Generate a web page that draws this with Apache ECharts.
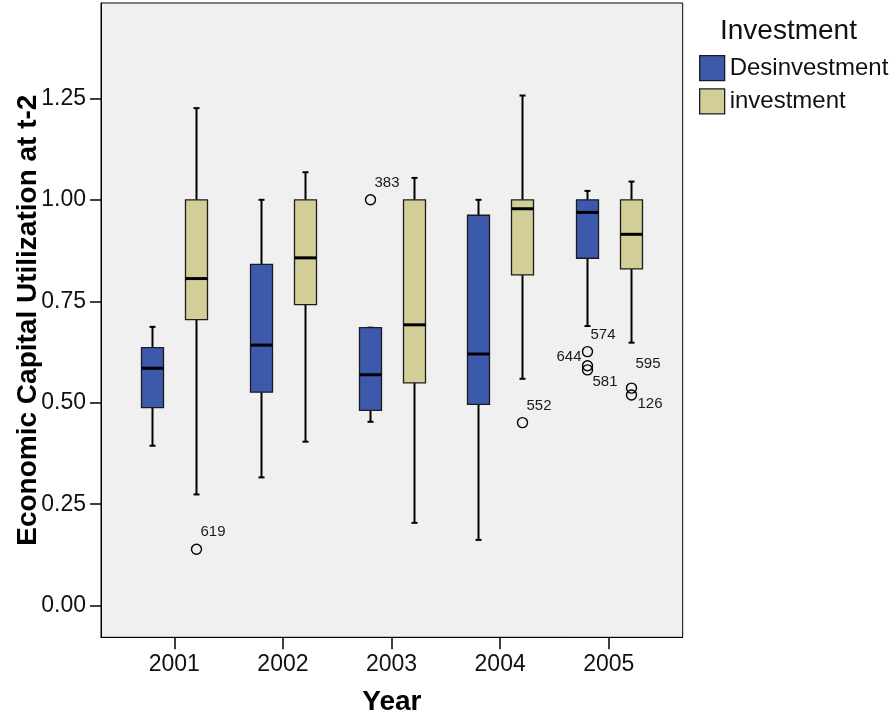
<!DOCTYPE html>
<html>
<head>
<meta charset="utf-8">
<title>Economic Capital Utilization at t-2 by Year</title>
<script src="https://cdn.jsdelivr.net/npm/echarts@6/dist/echarts.min.js"></script>
<style>
  html, body { margin: 0; padding: 0; background: #ffffff; }
  #chart { width: 892px; height: 717px; }
</style>
</head>
<body>
<div id="chart"></div>
<script>
// Years on the x axis
const years = [2001, 2002, 2003, 2004, 2005];

// Desinvestment group: five-number summaries per year
const desMin    = [0.394, 0.316, 0.453, 0.162, 0.689];
const desQ1     = [0.488, 0.526, 0.481, 0.496, 0.856];
const desMedian = [0.585, 0.642, 0.569, 0.620, 0.969];
const desQ3     = [0.636, 0.841, 0.685, 0.962, 1.000];
const desMax    = [0.687, 1.000, 0.685, 1.000, 1.022];

// investment group: five-number summaries per year
const invMin    = [0.274, 0.404, 0.204, 0.559, 0.648];
const invQ1     = [0.705, 0.742, 0.549, 0.815, 0.830];
const invMedian = [0.806, 0.857, 0.692, 0.978, 0.915];
const invQ3     = [1.000, 1.000, 1.000, 1.000, 1.000];
const invMax    = [1.226, 1.068, 1.054, 1.257, 1.045];

// Outlying cases (year, value, case number)
const desOutlierYears  = [2003, 2005, 2005, 2005];
const desOutlierValues = [1.000, 0.626, 0.591, 0.581];
const desOutlierCases  = ['383', '574', '644', '581'];

const invOutlierYears  = [2001, 2004, 2005, 2005];
const invOutlierValues = [0.139, 0.451, 0.536, 0.519];
const invOutlierCases  = ['619', '552', '595', '126'];

// Y axis tick values
const yTicks = [0, 0.25, 0.5, 0.75, 1.0, 1.25];

// ---- styling ----
const FONT = "'Liberation Sans', Arial, sans-serif";
const DES_COLOR = '#3D59AB';
const INV_COLOR = '#D3CE97';
const BOX_WIDTH = 22;      // px
const GROUP_SHIFT = 22;    // px offset of each box from the year tick
const CAP_HALF = 3;        // px half-width of whisker caps

// Where each case label sits relative to its circle: [dx, dy, align]
const caseLabelPlacement = {
  '383': [4, -17, 'left'],
  '574': [3, -17, 'left'],
  '644': [-6, -9, 'right'],
  '581': [5, 12, 'left'],
  '619': [4, -17, 'left'],
  '552': [4, -17, 'left'],
  '595': [4, -24, 'left'],
  '126': [6, 9, 'left']
};

function zip(...cols) {
  return cols[0].map((_, i) => cols.map(c => c[i]));
}

const desBoxes = zip(years, desMin, desQ1, desMedian, desQ3, desMax);
const invBoxes = zip(years, invMin, invQ1, invMedian, invQ3, invMax);
const desOutliers = zip(desOutlierYears, desOutlierValues);
const invOutliers = zip(invOutlierYears, invOutlierValues);

function boxRenderer(shift, fill) {
  return function (params, api) {
    const yr = api.value(0);
    const x = Math.round(api.coord([yr, 0])[0] + shift) + 0.5;
    const yv = i => api.coord([yr, api.value(i)])[1];
    const yMin = yv(1), yQ1 = yv(2), yMed = yv(3), yQ3 = yv(4), yMax = yv(5);
    const half = BOX_WIDTH / 2;
    const line = { stroke: '#000', lineWidth: 2 };
    const kids = [];
    // lower whisker and cap
    kids.push({ type: 'line', shape: { x1: x, y1: yQ1, x2: x, y2: yMin }, style: line });
    kids.push({ type: 'line', shape: { x1: x - CAP_HALF, y1: yMin, x2: x + CAP_HALF, y2: yMin }, style: line });
    // upper whisker and cap
    kids.push({ type: 'line', shape: { x1: x, y1: yQ3, x2: x, y2: yMax }, style: line });
    kids.push({ type: 'line', shape: { x1: x - CAP_HALF, y1: yMax, x2: x + CAP_HALF, y2: yMax }, style: line });
    // interquartile box
    kids.push({
      type: 'rect',
      shape: { x: x - half, y: yQ3, width: BOX_WIDTH, height: yQ1 - yQ3 },
      style: { fill: fill, stroke: '#1c1c1c', lineWidth: 1.3 }
    });
    // median
    kids.push({ type: 'line', shape: { x1: x - half, y1: yMed, x2: x + half, y2: yMed }, style: { stroke: '#000', lineWidth: 3 } });
    return { type: 'group', children: kids };
  };
}

function outlierRenderer(shift, cases) {
  return function (params, api) {
    const pt = api.coord([api.value(0), api.value(1)]);
    const cx = Math.round(pt[0] + shift) + 0.5;
    const cy = pt[1];
    const id = cases[params.dataIndex];
    const p = caseLabelPlacement[id];
    return {
      type: 'group',
      children: [
        { type: 'circle', shape: { cx: cx, cy: cy, r: 5 }, style: { fill: 'none', stroke: '#000', lineWidth: 1.4 } },
        {
          type: 'text',
          x: cx + p[0],
          y: cy + p[1],
          style: { text: id, fill: '#1a1a1a', font: '15px ' + FONT, align: p[2], verticalAlign: 'middle' }
        }
      ]
    };
  };
}

const chart = echarts.init(document.getElementById('chart'), null, { renderer: 'canvas' });

chart.setOption({
  backgroundColor: '#ffffff',
  animation: false,
  textStyle: { fontFamily: FONT },
  title: {
    text: 'Investment',
    left: 720,
    top: 17,
    padding: 0,
    textStyle: { fontFamily: FONT, fontSize: 28, fontWeight: 'normal', color: '#111' }
  },
  legend: {
    orient: 'vertical',
    left: 699,
    top: 55,
    padding: 0,
    itemWidth: 25,
    itemHeight: 25,
    itemGap: 7,
    selectedMode: false,
    textStyle: { fontFamily: FONT, fontSize: 24, color: '#111', padding: [0, 0, 0, 0] },
    data: [
      { name: 'Desinvestment', icon: 'rect', itemStyle: { color: DES_COLOR, borderColor: '#1c1c1c', borderWidth: 1.3 } },
      { name: 'investment', icon: 'rect', itemStyle: { color: INV_COLOR, borderColor: '#1c1c1c', borderWidth: 1.3 } }
    ]
  },
  grid: {
    left: 101,
    top: 3,
    width: 581.7,
    height: 634.3,
    show: true,
    backgroundColor: '#f0f0f0',
    borderColor: '#000',
    borderWidth: 1,
    containLabel: false,
    outerBoundsMode: 'none'
  },
  xAxis: {
    type: 'value',
    min: 2000.325,
    max: 2005.681,
    name: 'Year',
    nameLocation: 'middle',
    nameGap: 51,
    nameMoveOverlap: false,
    nameTextStyle: { fontFamily: FONT, fontSize: 28, fontWeight: 'bold', color: '#000' },
    axisLine: { show: true, onZero: false, lineStyle: { color: '#000', width: 1 } },
    axisTick: { show: true, length: 12, customValues: years, lineStyle: { color: '#000', width: 1.5 } },
    axisLabel: {
      customValues: years,
      margin: 16,
      fontFamily: FONT,
      fontSize: 23,
      color: '#111',
      formatter: v => String(v)
    },
    splitLine: { show: false }
  },
  yAxis: {
    type: 'value',
    min: -0.078,
    max: 1.485,
    name: 'Economic Capital Utilization at t-2',
    nameLocation: 'middle',
    nameGap: 59,
    nameMoveOverlap: false,
    nameTextStyle: { fontFamily: FONT, fontSize: 28, fontWeight: 'bold', color: '#000' },
    axisLine: { show: true, onZero: false, lineStyle: { color: '#000', width: 1 } },
    axisTick: { show: true, length: 11, customValues: yTicks, lineStyle: { color: '#000', width: 1.5 } },
    axisLabel: {
      customValues: yTicks,
      margin: 15,
      fontFamily: FONT,
      fontSize: 23,
      color: '#111',
      formatter: v => v.toFixed(2)
    },
    splitLine: { show: false }
  },
  series: [
    {
      name: 'Desinvestment',
      type: 'custom',
      itemStyle: { color: DES_COLOR },
      renderItem: boxRenderer(-GROUP_SHIFT, DES_COLOR),
      encode: { x: 0, y: [1, 2, 3, 4, 5] },
      data: desBoxes,
      z: 3
    },
    {
      name: 'investment',
      type: 'custom',
      itemStyle: { color: INV_COLOR },
      renderItem: boxRenderer(GROUP_SHIFT, INV_COLOR),
      encode: { x: 0, y: [1, 2, 3, 4, 5] },
      data: invBoxes,
      z: 3
    },
    {
      name: 'Desinvestment',
      type: 'custom',
      renderItem: outlierRenderer(-GROUP_SHIFT, desOutlierCases),
      encode: { x: 0, y: 1 },
      data: desOutliers,
      z: 4
    },
    {
      name: 'investment',
      type: 'custom',
      renderItem: outlierRenderer(GROUP_SHIFT, invOutlierCases),
      encode: { x: 0, y: 1 },
      data: invOutliers,
      z: 4
    }
  ]
});
</script>
</body>
</html>
